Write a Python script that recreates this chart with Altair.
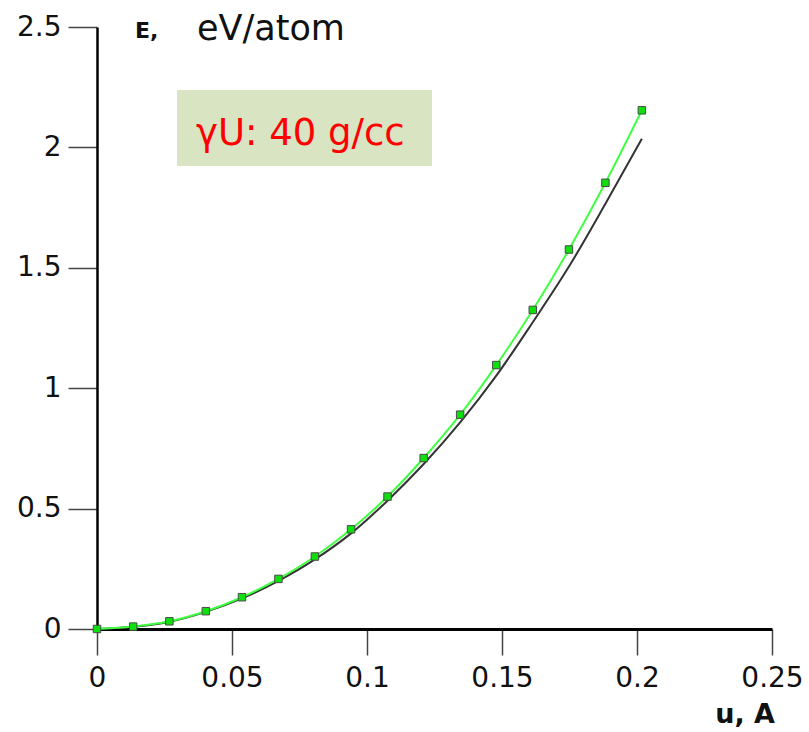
import altair as alt
import pandas as pd

# displacement u (A) at the sampled points
u_vals = [0, 0.0134, 0.0268, 0.0403, 0.0537, 0.0672, 0.0807, 0.0941,
          0.1076, 0.1210, 0.1345, 0.1479, 0.1614, 0.1748, 0.1883, 0.2018]
# green series (with square markers), eV/atom
e_green = [0, 0.010, 0.032, 0.074, 0.132, 0.208, 0.301, 0.414,
           0.550, 0.710, 0.890, 1.096, 1.325, 1.576, 1.853, 2.154]
# black series, eV/atom
e_black = [0, 0.009, 0.030, 0.071, 0.127, 0.200, 0.289, 0.397,
           0.533, 0.685, 0.858, 1.052, 1.274, 1.505, 1.766, 2.036]

x_ticks = [0, 0.05, 0.1, 0.15, 0.2, 0.25]
y_ticks = [0, 0.5, 1, 1.5, 2, 2.5]

df_g = pd.DataFrame({"u": u_vals, "E": e_green})
df_b = pd.DataFrame({"u": u_vals, "E": e_black})

FONT = "DejaVu Sans"

x_enc = alt.X("u:Q",
              scale=alt.Scale(domain=[0, 0.25], nice=False, zero=False),
              axis=alt.Axis(values=x_ticks, title=None, grid=False,
                            domainColor="#000000", domainWidth=3,
                            tickColor="#444444", tickWidth=1.5, tickSize=26,
                            labelFont=FONT, labelFontSize=28, labelColor="#111111",
                            labelPadding=9, labelFlush=False,
                            labelExpr="format(datum.value, '')"))
y_enc = alt.Y("E:Q",
              scale=alt.Scale(domain=[0, 2.5], nice=False),
              axis=alt.Axis(values=y_ticks, title=None, grid=False,
                            domainColor="#000000", domainWidth=2.5,
                            tickColor="#444444", tickWidth=1.5, tickSize=29,
                            labelFont=FONT, labelFontSize=28, labelColor="#111111",
                            labelPadding=7, labelFlush=False,
                            labelExpr="format(datum.value, '')"))

black_line = alt.Chart(df_b).mark_line(color="#333333", strokeWidth=2,
                                        interpolate="monotone").encode(x=x_enc, y=y_enc)
green_line = alt.Chart(df_g).mark_line(color="#40ff40", strokeWidth=2,
                                        interpolate="monotone").encode(x="u:Q", y="E:Q")
green_pts = alt.Chart(df_g).mark_point(shape="square", filled=True, size=56,
                                        color="#0ee00e", stroke="#4a4a4a",
                                        strokeWidth=1, opacity=1).encode(x="u:Q", y="E:Q")

one = pd.DataFrame({"k": [0]})

box = alt.Chart(one).mark_rect(color="#d9e4c3").encode(
    x=alt.value(80), x2=alt.value(335), y=alt.value(63), y2=alt.value(139))
box_text = alt.Chart(one).mark_text(text="γU: 40 g/cc", font=FONT, fontSize=37,
                                    color="#ff0000", align="left",
                                    baseline="alphabetic").encode(
    x=alt.value(99), y=alt.value(118))
e_label = alt.Chart(one).mark_text(text="E,", font=FONT, fontSize=22, fontWeight="bold",
                                   color="#111111", align="left",
                                   baseline="alphabetic").encode(
    x=alt.value(38), y=alt.value(11))
unit_label = alt.Chart(one).mark_text(text="eV/atom", font=FONT, fontSize=35,
                                      color="#111111", align="left",
                                      baseline="alphabetic").encode(
    x=alt.value(100), y=alt.value(13))
x_label = alt.Chart(one).mark_text(text="u, A", font=FONT, fontSize=27, fontWeight="bold",
                                   color="#111111", align="right",
                                   baseline="alphabetic").encode(
    x=alt.value(678), y=alt.value(696))

chart = alt.layer(black_line, green_line, green_pts, box, box_text,
                  e_label, unit_label, x_label).properties(
    width=675, height=602,
    autosize=alt.AutoSizeParams(type="none"),
    padding={"left": 97, "top": 27, "right": 37, "bottom": 103},
    background="#ffffff",
).configure_view(stroke=None)

chart.save("out.html", embed_options={"renderer": "svg", "actions": False})
